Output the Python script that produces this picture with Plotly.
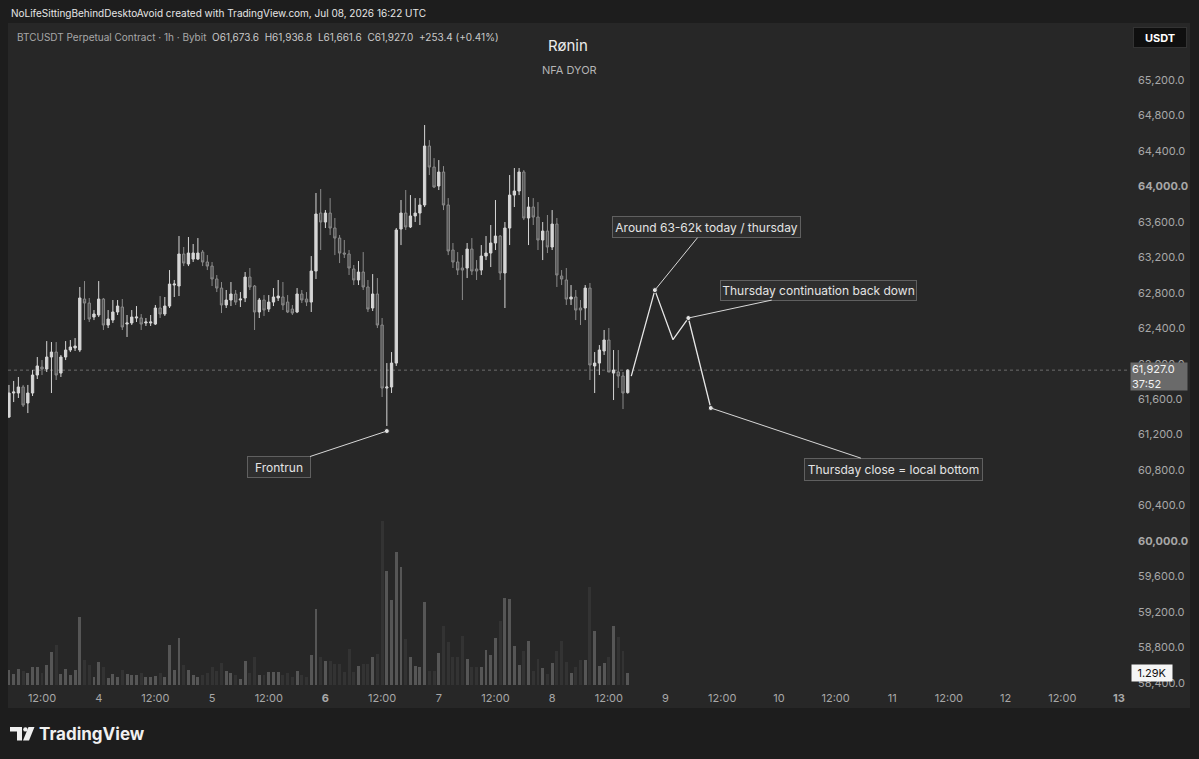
import plotly.graph_objects as go
import pandas as pd

# ---------------- data ----------------
times = pd.date_range("2026-07-03 05:00", periods=132, freq="h")

opens = [61398, 61669, 61669, 61737, 61556, 61669, 61872, 61962, 61940, 62075,
         62131, 61894, 62075, 62154, 62177, 62154, 62729, 62684, 62526, 62549,
         62729, 62436, 62492, 62583, 62639, 62447, 62459, 62515, 62515, 62459,
         62459, 62447, 62628, 62560, 62650, 62887, 62876, 63237, 63124, 63180,
         63180, 63259, 63147, 63101, 62955, 62853, 62662, 62718, 62786, 62718,
         62741, 62977, 62876, 62583, 62718, 62616, 62695, 62741, 62752, 62695,
         62616, 62583, 62786, 62729, 62695, 63045, 63699, 63598, 63699, 63530,
         63417, 63248, 63237, 63068, 62944, 63034, 62865, 62628, 62786, 62436,
         61725, 61737, 62007, 63519, 63699, 63542, 63666, 63699, 63790, 64455,
         64218, 64004, 64162, 63790, 63282, 63147, 63079, 63079, 63293, 63068,
         63056, 63214, 63248, 63361, 63440, 63023, 63530, 63902, 63948, 64162,
         63643, 63767, 63654, 63395, 63496, 63316, 63575, 62989, 62944, 62729,
         62752, 62628, 62628, 62853, 61974, 62007, 62143, 62267, 61894, 61906,
         61861, 61673.6]

highs = [61760, 61805, 61850, 61760, 61760, 61928, 62075, 62041, 62255, 62244,
         62244, 62098, 62255, 62267, 62289, 62865, 62932, 62741, 62605, 62932,
         62741, 62605, 62718, 62718, 62729, 62549, 62605, 62650, 62560, 62515,
         62549, 62662, 62763, 62752, 63056, 62944, 63440, 63316, 63429, 63350,
         63417, 63282, 63225, 63147, 63000, 62921, 62831, 62921, 62831, 62808,
         63034, 63079, 62887, 62741, 62774, 62774, 62853, 62944, 62921, 62774,
         62662, 62853, 62831, 62808, 63214, 63925, 63970, 63733, 63868, 63643,
         63451, 63395, 63282, 63113, 63158, 63259, 62944, 63011, 62966, 62515,
         62007, 62131, 63530, 63846, 63959, 63902, 63868, 63868, 64692, 64522,
         64319, 64297, 64229, 63868, 63361, 63259, 63225, 63361, 63417, 63169,
         63338, 63440, 63564, 63846, 63451, 63598, 64128, 64207, 64207, 64184,
         63880, 63868, 63823, 63598, 63677, 63733, 63643, 63056, 63079, 62887,
         62831, 62718, 62887, 62910, 62131, 62210, 62380, 62402, 62154, 62154,
         61906, 61936.8]

lows = [61387, 61567, 61613, 61511, 61443, 61635, 61827, 61872, 61906, 61669,
        61816, 61850, 62041, 62131, 62143, 62131, 62492, 62470, 62492, 62526,
        62380, 62402, 62459, 62549, 62380, 62301, 62436, 62470, 62380, 62425,
        62425, 62436, 62515, 62538, 62628, 62752, 62763, 63101, 63101, 63147,
        63169, 63101, 63056, 62876, 62808, 62571, 62628, 62650, 62662, 62639,
        62695, 62831, 62380, 62515, 62538, 62583, 62650, 62707, 62605, 62571,
        62549, 62571, 62684, 62650, 62583, 62955, 63282, 63530, 63451, 63225,
        63135, 63192, 63000, 62887, 62887, 62831, 62583, 62594, 62402, 61624,
        61297, 61669, 61974, 63338, 63508, 63530, 63598, 63564, 63767, 64128,
        63981, 63959, 63733, 63225, 63079, 63000, 62718, 62966, 63000, 62944,
        63000, 63169, 63090, 63282, 62944, 62628, 63338, 63767, 63902, 63620,
        63338, 63564, 63282, 63169, 63248, 63282, 62865, 62887, 62662, 62662,
        62492, 62436, 62492, 61816, 61669, 61872, 62098, 61906, 61590, 61726,
        61488, 61661.6]

closes = [61669, 61680, 61737, 61533, 61669, 61872, 61974, 61940, 62075, 62131,
          61872, 62075, 62154, 62188, 62199, 62741, 62684, 62504, 62560, 62729,
          62436, 62504, 62583, 62650, 62414, 62459, 62526, 62526, 62447, 62470,
          62470, 62628, 62560, 62650, 62898, 62898, 63237, 63135, 63248, 63248,
          63248, 63147, 63101, 62955, 62853, 62662, 62718, 62786, 62695, 62729,
          62977, 62865, 62583, 62718, 62605, 62695, 62752, 62763, 62662, 62583,
          62571, 62786, 62718, 62695, 63045, 63688, 63598, 63699, 63530, 63417,
          63248, 63237, 63079, 62944, 63034, 62865, 62616, 62786, 62436, 61725,
          61737, 62007, 63508, 63699, 63542, 63666, 63699, 63790, 64455, 64218,
          63993, 64162, 63790, 63271, 63147, 63056, 63056, 63293, 63045, 63045,
          63214, 63248, 63361, 63440, 63023, 63530, 63902, 63948, 64162, 63643,
          63767, 63654, 63395, 63496, 63316, 63575, 63000, 62955, 62729, 62752,
          62605, 62605, 62853, 61985, 62007, 62154, 62267, 61906, 61928, 61861,
          61669, 61927.0]

volumes = [1610, 1180, 1720, 1505, 1290, 1935, 1935, 1290, 2150, 3550,
           4300, 1180, 1720, 1075, 1610, 7310, 2690, 2150, 860, 2470,
           1935, 750, 1180, 860, 1610, 1180, 1075, 1075, 1290, 860,
           860, 970, 1290, 860, 4300, 1610, 5050, 2150, 1610, 1075,
           860, 1075, 1290, 1935, 1505, 2365, 1505, 1290, 1075, 645,
           2580, 1290, 3010, 1075, 1075, 1400, 1400, 1400, 1075, 1290,
           860, 1505, 1075, 860, 3225, 8170, 3010, 2580, 2580, 2260,
           2260, 1400, 3870, 1400, 2040, 2260, 2260, 3010, 3330, 17630,
           12255, 9140, 14300, 12685, 4945, 3010, 2040, 1935, 8920, 1505,
           1505, 3440, 6340, 4620, 3010, 3010, 5270, 2795, 1935, 1935,
           1935, 3760, 3225, 5050, 6880, 9350, 9245, 4190, 2150, 3655,
           4730, 1505, 2795, 1830, 1180, 2365, 3655, 4730, 2470, 1290,
           1935, 2690, 2690, 10535, 5805, 2040, 2365, 3010, 6340, 5160,
           3655, 1290]

# projected path drawn on the chart
proj_times = ["2026-07-08 16:45", "2026-07-08 21:45", "2026-07-09 01:35",
              "2026-07-09 04:50", "2026-07-09 09:35"]
proj_prices = [61860, 62830, 62270, 62515, 61500]

# callouts: (text, point time, point price, box time, box price, box w, box h)
callouts = [
    ("Frontrun", "2026-07-06 13:00", 61240, "2026-07-05 14:05", 60835, 64, 22),
    ("Around 63-62k today / thursday", "2026-07-08 21:45", 62830, "2026-07-09 08:35", 63540, 189, 22),
    ("Thursday continuation back down", "2026-07-09 04:50", 62515, "2026-07-10 08:20", 62830, 197, 21),
    ("Thursday close = local bottom", "2026-07-09 09:35", 61500, "2026-07-11 00:20", 60810, 179, 23),
]

price_ticks = [58400, 58800, 59200, 59600, 60000, 60400, 60800, 61200, 61600,
               62000, 62400, 62800, 63200, 63600, 64000, 64400, 64800, 65200]
price_tick_text = ["58,400.0", "58,800.0", "59,200.0", "59,600.0", "<b>60,000.0</b>",
                   "60,400.0", "60,800.0", "61,200.0", "61,600.0", "62,000.0",
                   "62,400.0", "62,800.0", "63,200.0", "63,600.0", "<b>64,000.0</b>",
                   "64,400.0", "64,800.0", "65,200.0"]

time_ticks = ["2026-07-03 12:00", "2026-07-04", "2026-07-04 12:00", "2026-07-05",
              "2026-07-05 12:00", "2026-07-06", "2026-07-06 12:00", "2026-07-07",
              "2026-07-07 12:00", "2026-07-08", "2026-07-08 12:00", "2026-07-09",
              "2026-07-09 12:00", "2026-07-10", "2026-07-10 12:00", "2026-07-11",
              "2026-07-11 12:00", "2026-07-12", "2026-07-12 12:00", "2026-07-13"]
time_tick_text = ["12:00", "4", "12:00", "5", "12:00", "<b>6</b>", "12:00", "7",
                  "12:00", "8", "12:00", "9", "12:00", "10", "12:00", "11",
                  "12:00", "12", "12:00", "<b>13</b>"]

last_price = 61927.0
last_volume_label = "1.29K"

# ---------------- layout helpers (pixel -> paper) ----------------
W, H = 1199, 759
ML, MR, MT, MB = 8, 72, 23, 73
PW = W - ML - MR
PH = H - MT - MB


def px(x):
    return (x - ML) / PW


def py(y):
    return (H - MB - y) / PH


FONT = "Inter, Roboto, 'Open Sans', sans-serif"
PANE = "#272727"
OUTER = "#1d1d1d"

up_col_vol = "#565656"
dn_col_vol = "#333333"
vol_colors = [up_col_vol if c >= o else dn_col_vol for o, c in zip(opens, closes)]

fig = go.Figure()

fig.add_trace(go.Bar(
    x=times, y=volumes, yaxis="y2", marker=dict(color=vol_colors, line=dict(width=0)),
    width=0.62 * 3600 * 1000, hoverinfo="skip", showlegend=False))

fig.add_trace(go.Candlestick(
    x=times, open=opens, high=highs, low=lows, close=closes,
    increasing=dict(line=dict(color="#d6d6d6", width=1), fillcolor="#d6d6d6"),
    decreasing=dict(line=dict(color="#8a8a8a", width=1), fillcolor="#505050"),
    whiskerwidth=0, showlegend=False))

fig.add_trace(go.Scatter(
    x=proj_times, y=proj_prices, mode="lines", line=dict(color="#e6e6e6", width=1.3),
    hoverinfo="skip", showlegend=False))

dot_x = [c[1] for c in callouts]
dot_y = [c[2] for c in callouts]
fig.add_trace(go.Scatter(
    x=dot_x, y=dot_y, mode="markers",
    marker=dict(size=5, color="#e6e6e6", line=dict(color="#262626", width=1)),
    hoverinfo="skip", showlegend=False))

annotations = []
for text, xt, yt, bx, by, bw, bh in callouts:
    annotations.append(dict(
        x=xt, y=yt, xref="x", yref="y", ax=bx, ay=by, axref="x", ayref="y",
        text=text, showarrow=True, arrowhead=0, arrowwidth=1, arrowcolor="#d8d8d8",
        standoff=0, startstandoff=0,
        font=dict(family=FONT, size=12, color="#e4e4e4"),
        bgcolor="#2e2e2e", bordercolor="#606060", borderwidth=1, borderpad=0,
        width=bw - 2, height=bh - 2, align="center", valign="middle"))

# header texts
annotations.append(dict(
    x=px(9), y=py(13), xref="paper", yref="paper", xanchor="left", yanchor="middle",
    text="NoLifeSittingBehindDesktoAvoid created with TradingView.com, Jul 08, 2026 16:22 UTC",
    showarrow=False, font=dict(family=FONT, size=10, color="#e6e6e6")))
annotations.append(dict(
    x=px(15), y=py(37), xref="paper", yref="paper", xanchor="left", yanchor="middle",
    text=("<span style='color:#a8a8a8'>BTCUSDT Perpetual Contract · 1h · Bybit</span>"
          "  O61,673.6  H61,936.8  L61,661.6  C61,927.0  +253.4 (+0.41%)"),
    showarrow=False, font=dict(family=FONT, size=10, color="#c9c9c9")))
annotations.append(dict(
    x=px(568), y=py(46), xref="paper", yref="paper", xanchor="center", yanchor="middle",
    text="Rønin", showarrow=False, font=dict(family=FONT, size=15, color="#ececec")))
annotations.append(dict(
    x=px(569), y=py(70), xref="paper", yref="paper", xanchor="center", yanchor="middle",
    text="NFA DYOR", showarrow=False, font=dict(family=FONT, size=11, color="#b5b5b5")))

# price axis widgets
annotations.append(dict(
    x=px(1159.5), y=py(37), xref="paper", yref="paper", xanchor="center", yanchor="middle",
    text="<b>USDT</b>", showarrow=False, font=dict(family=FONT, size=11, color="#ffffff"),
    bgcolor="#0f0f0f", bordercolor="#333333", borderwidth=1, width=50, height=17))
annotations.append(dict(
    x=px(1130), y=py(376), xref="paper", yref="paper", xanchor="left", yanchor="middle",
    text=f"{last_price:,.1f}<br>37:52", showarrow=False, align="left",
    font=dict(family=FONT, size=11, color="#f2f2f2"),
    bgcolor="#6a6a6a", borderpad=1, width=54, height=25))
annotations.append(dict(
    x=px(1131), y=py(672.5), xref="paper", yref="paper", xanchor="left", yanchor="middle",
    text=last_volume_label, showarrow=False, font=dict(family=FONT, size=11, color="#111111"),
    bgcolor="#f5f5f5", width=38, height=14))

# TradingView logo text
annotations.append(dict(
    x=px(37), y=py(734), xref="paper", yref="paper", xanchor="left", yanchor="middle",
    text="<b>TradingView</b>", showarrow=False,
    font=dict(family=FONT, size=17, color="#f0f0f0")))

shapes = [
    # pane background (including axes strips)
    dict(type="rect", xref="paper", yref="paper", x0=px(8), x1=px(1190), y0=py(23), y1=py(708),
         fillcolor=PANE, line=dict(width=0), layer="below"),
    # last price dotted line
    dict(type="line", xref="paper", yref="y", x0=0, x1=1, y0=last_price, y1=last_price,
         line=dict(color="#6c6c6c", width=1, dash="dot"), layer="below"),
    # logo icon pieces
    dict(type="path", xref="paper", yref="paper",
         path=(f"M {px(10)},{py(727)} L {px(22)},{py(727)} L {px(22)},{py(740.5)} "
               f"L {px(17)},{py(740.5)} L {px(17)},{py(731.5)} L {px(10)},{py(731.5)} Z"),
         fillcolor="#f0f0f0", line=dict(width=0)),
    dict(type="circle", xref="paper", yref="paper", x0=px(23.2), x1=px(27.6),
         y0=py(727.2), y1=py(731.6), fillcolor="#f0f0f0", line=dict(width=0)),
    dict(type="path", xref="paper", yref="paper",
         path=(f"M {px(28.5)},{py(727)} L {px(34.5)},{py(727)} L {px(29)},{py(740.5)} "
               f"L {px(23)},{py(740.5)} Z"),
         fillcolor="#f0f0f0", line=dict(width=0)),
]

fig.update_layout(
    width=W, height=H, margin=dict(l=ML, r=MR, t=MT, b=MB),
    paper_bgcolor=OUTER, plot_bgcolor=PANE,
    font=dict(family=FONT, color="#a8a8a8"),
    showlegend=False, annotations=annotations, shapes=shapes,
    xaxis=dict(type="date", range=["2026-07-03 04:48", "2026-07-13 01:42"],
               tickvals=time_ticks, ticktext=time_tick_text, ticks="",
               tickfont=dict(family=FONT, size=11, color="#a8a8a8"),
               showgrid=False, zeroline=False, showline=False,
               rangeslider=dict(visible=False), ticklabelstandoff=4),
    yaxis=dict(range=[58364, 65843], side="right", tickvals=price_ticks,
               ticktext=price_tick_text, ticks="",
               tickfont=dict(family=FONT, size=11, color="#a8a8a8"),
               showgrid=False, zeroline=False, showline=False, ticklabelstandoff=10),
    yaxis2=dict(range=[-108, 71165], overlaying="y", visible=False),
    bargap=0,
)

fig.write_html("out.html")
